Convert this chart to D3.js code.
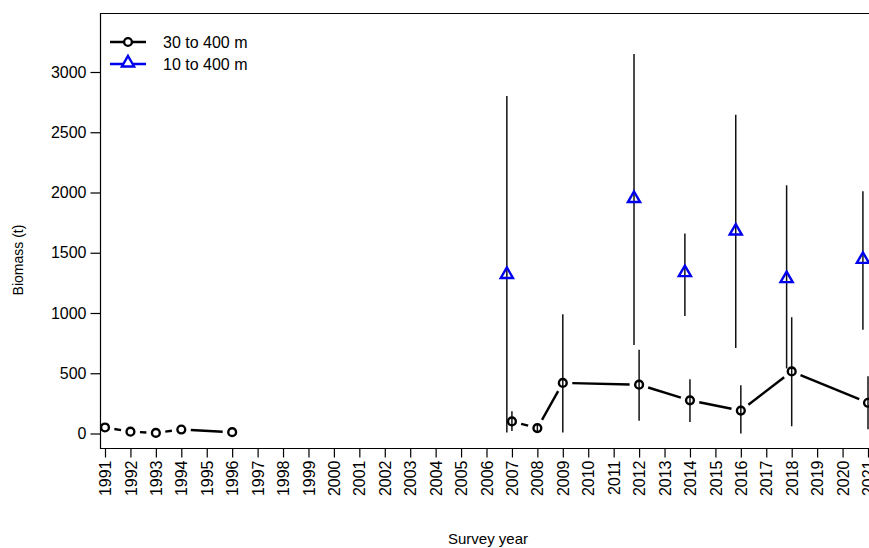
<!DOCTYPE html>
<html>
<head>
  <meta charset="utf-8">
  <title>Biomass by survey year</title>
  <style>
    body { margin: 0; background: #fff; }
    svg text { font-family: 'Liberation Sans', Arial, sans-serif; }
  </style>
</head>
<body>
  <div id='chart'></div>
  <script src="https://d3js.org/d3.v7.min.js"></script>
  <script>
    // data
    let tickYears = d3.range(1991, 2022);
    let yTicks = [0, 500, 1000, 1500, 2000, 2500, 3000];

    // 30 to 400 m, two runs (no line between 1996 and 2007)
    let deepYearsA = [1991, 1992, 1993, 1994, 1996];
    let deepValsA = [50, 15, 5, 33, 11];
    let deepYearsB = [2007, 2008, 2009, 2012, 2014, 2016, 2018, 2021];
    let deepValsB = [100, 45, 420, 405, 275, 190, 515, 255];
    let deepLowB = [20, 20, 8, 105, 95, 0, 60, 35];
    let deepHighB = [185, 70, 990, 695, 450, 400, 965, 475];

    // 10 to 400 m
    let shallowYears = [2007, 2012, 2014, 2016, 2018, 2021];
    let shallowVals = [1320, 1950, 1335, 1680, 1285, 1445];
    let shallowLow = [8, 735, 975, 710, 540, 860];
    let shallowHigh = [2800, 3150, 1660, 2645, 2060, 2010];

    let svgWidth = 869;
    let svgHeight = 548;
    let box = { left: 100.5, top: 13.5, right: 880, bottom: 448.5 };
    let shift = -0.2; // blue series drawn a bit left of the tick

    function translate(x, y) {
      return 'translate(' + x + ',' + y + ')';
    }

    let x = d3.scaleLinear().domain([1991, 2021]).range([105, 868]);
    let y = d3.scaleLinear().domain([0, 3000]).range([433.5, 72]);

    let svg = d3.select('#chart').append('svg')
      .attr('width', svgWidth)
      .attr('height', svgHeight);

    // error bars
    let bars = [];
    deepYearsB.forEach((yr, i) => bars.push({ x: x(yr), lo: deepLowB[i], hi: deepHighB[i] }));
    shallowYears.forEach((yr, i) => bars.push({ x: x(yr + shift), lo: shallowLow[i], hi: shallowHigh[i] }));

    svg.append('g').selectAll('line').data(bars).enter().append('line')
      .attr('x1', d => d.x).attr('x2', d => d.x)
      .attr('y1', d => y(d.lo)).attr('y2', d => y(d.hi))
      .attr('stroke', '#111').attr('stroke-width', 1.5);

    // lines with gaps round the points (R type = "b")
    function gapSegments(xs, vs, gap) {
      let segs = [];
      for (let i = 0; i < xs.length - 1; i++) {
        let x0 = x(xs[i]), y0 = y(vs[i]), x1 = x(xs[i + 1]), y1 = y(vs[i + 1]);
        let len = Math.hypot(x1 - x0, y1 - y0);
        if (len <= 2 * gap) continue;
        let ux = (x1 - x0) / len, uy = (y1 - y0) / len;
        segs.push([x0 + ux * gap, y0 + uy * gap, x1 - ux * gap, y1 - uy * gap]);
      }
      return segs;
    }

    let segs = gapSegments(deepYearsA, deepValsA, 9.5).concat(gapSegments(deepYearsB, deepValsB, 9.5));
    svg.append('g').selectAll('line').data(segs).enter().append('line')
      .attr('x1', d => d[0]).attr('y1', d => d[1])
      .attr('x2', d => d[2]).attr('y2', d => d[3])
      .attr('stroke', '#000').attr('stroke-width', 2.4);

    // points
    let deepPts = deepYearsA.map((yr, i) => [yr, deepValsA[i]])
      .concat(deepYearsB.map((yr, i) => [yr, deepValsB[i]]));
    svg.append('g').selectAll('circle').data(deepPts).enter().append('circle')
      .attr('cx', d => x(d[0])).attr('cy', d => y(d[1])).attr('r', 3.9)
      .attr('fill', 'none').attr('stroke', '#000').attr('stroke-width', 2.4);

    let tri = d3.symbol().type(d3.symbolTriangle).size(64);
    svg.append('g').selectAll('path').data(shallowYears).enter().append('path')
      .attr('d', tri)
      .attr('transform', (d, i) => translate(x(d + shift), y(shallowVals[i])))
      .attr('fill', 'none').attr('stroke', '#0000ee').attr('stroke-width', 2.4);

    // box
    svg.append('path')
      .attr('d', 'M' + box.right + ',' + box.top + 'H' + box.left + 'V' + box.bottom + 'H' + box.right)
      .attr('fill', 'none').attr('stroke', '#000').attr('stroke-width', 1.2);

    // y axis
    let yAxis = svg.append('g').attr('transform', translate(box.left, 0))
      .call(d3.axisLeft(y).tickValues(yTicks).tickSize(10).tickPadding(4).tickFormat(d3.format('d')));
    yAxis.select('.domain').remove();
    yAxis.selectAll('line').attr('stroke-width', 1.2);
    yAxis.selectAll('text').style('font-size', '16px').attr('fill', '#000');

    // x axis
    let xAxis = svg.append('g').attr('transform', translate(0, box.bottom))
      .call(d3.axisBottom(x).tickValues(tickYears).tickSize(9).tickFormat(d3.format('d')));
    xAxis.select('.domain').remove();
    xAxis.selectAll('line').attr('stroke-width', 1.2);
    xAxis.selectAll('text')
      .style('font-size', '16px').attr('fill', '#000')
      .attr('text-anchor', 'end')
      .attr('transform', 'rotate(-90)')
      .attr('x', -12).attr('y', 0).attr('dy', '0.35em');

    // axis titles
    svg.append('text').text('Survey year')
      .attr('x', 488).attr('y', 544).attr('text-anchor', 'middle')
      .style('font-size', '15px');
    svg.append('text').text('Biomass (t)')
      .attr('transform', translate(23, 260) + ' rotate(-90)')
      .attr('text-anchor', 'middle')
      .style('font-size', '14px');

    // legend
    let legend = svg.append('g');
    legend.append('line').attr('x1', 110).attr('x2', 146).attr('y1', 42).attr('y2', 42)
      .attr('stroke', '#000').attr('stroke-width', 2.4);
    legend.append('circle').attr('cx', 128).attr('cy', 42).attr('r', 3.9)
      .attr('fill', '#fff').attr('stroke', '#000').attr('stroke-width', 2.4);
    legend.append('line').attr('x1', 110).attr('x2', 146).attr('y1', 64).attr('y2', 64)
      .attr('stroke', '#0000ee').attr('stroke-width', 2.4);
    legend.append('path').attr('d', tri).attr('transform', translate(128, 63))
      .attr('fill', '#fff').attr('stroke', '#0000ee').attr('stroke-width', 2.4);
    legend.append('text').text('30 to 400 m').attr('x', 163).attr('y', 48).style('font-size', '16px');
    legend.append('text').text('10 to 400 m').attr('x', 163).attr('y', 70).style('font-size', '16px');
  </script>
</body>
</html>
